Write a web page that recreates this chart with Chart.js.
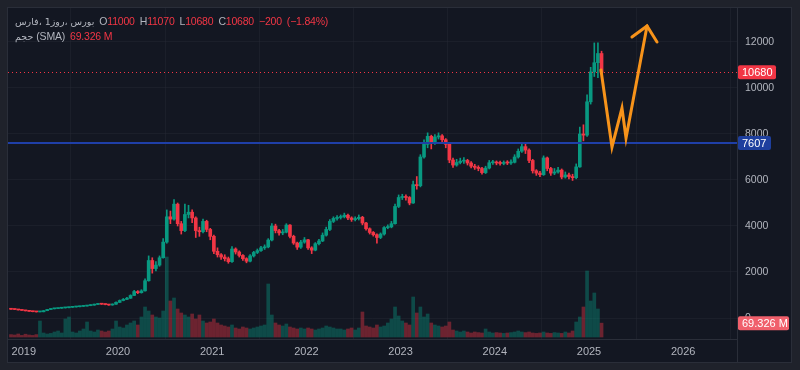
<!DOCTYPE html>
<html>
<head>
<meta charset="utf-8">
<script src="https://cdn.jsdelivr.net/npm/chart.js@4.4.1/dist/chart.umd.min.js"></script>
<style>
  html, body { margin: 0; padding: 0; width: 800px; height: 370px; overflow: hidden; background: #1f222b; }
  #panel { position: absolute; left: 8px; top: 8px; width: 783px; height: 354px; background: #131722; box-shadow: 0 0 0 1px #2a2e39; }
  #panel canvas { position: absolute; left: 0; top: 0; }
  .legend { position: absolute; left: 7px; height: 14px; line-height: 14px; white-space: nowrap; color: #b2b5be;
            display: flex; align-items: center;
            font: 10.5px "Liberation Sans", "DejaVu Sans", sans-serif; letter-spacing: -0.2px; }
  .legend .v { color: #f23645; }
  .legend .g { margin-left: 5px; }
  .fa { font-family: "DejaVu Sans", sans-serif; font-size: 9.5px; letter-spacing: 0; direction: ltr; }
</style>
</head>
<body>
<div id="panel">
  <canvas id="chart"></canvas>
  <div class="legend" id="row1" style="top:6px"></div>
  <div class="legend" id="row2" style="top:21px"></div>
</div>
<script>
/* ---- data (two-week candles) ---- */
const START_YEAR = 2018.864;
const STEP = 1 / 26;
const firstOpen = 390;

const closes = [
  380,370,350,330,310,290,275,265,270,320,
  370,400,410,425,440,450,465,480,490,505,
  520,540,560,590,610,600,585,565,600,680,
  760,810,860,980,1150,1100,1180,1620,2500,2150,
  2300,2620,3300,4400,4300,4950,4100,3800,4500,4600,
  4350,3800,3750,4200,3850,3550,2900,2750,2650,2580,
  2450,3000,2870,2720,2580,2470,2700,2850,2930,3050,
  3090,3390,4000,3800,3700,3730,4040,3550,3260,3080,
  3300,3400,3050,2950,3230,3350,3600,3850,4200,4330,
  4370,4400,4470,4350,4280,4320,4380,4130,3880,3720,
  3620,3500,3650,3930,3960,4100,4850,5240,5260,5240,
  5000,5800,5750,7000,7550,7900,7600,7870,7920,7750,
  7550,6870,6650,6760,6820,6850,6740,6600,6550,6500,
  6320,6520,6750,6760,6740,6720,6760,6740,6770,7000,
  7250,7450,7300,6850,6400,6300,6230,6960,6500,6300,
  6350,6430,6130,6220,6150,6100,6570,8000,7950,9400,
  10700,11100,11500,10680
];
const highs = [
  400,388,378,356,336,315,296,282,280,328,
  378,410,420,435,452,462,478,495,502,520,
  535,556,578,605,640,625,612,595,615,700,
  785,850,900,1010,1200,1190,1230,1700,2700,2620,
  2450,2700,3450,4700,4650,5150,5000,4200,4950,4900,
  4700,4400,3950,4300,4250,3900,3600,3050,2800,2750,
  2650,3100,3050,2920,2760,2620,2760,2900,3000,3120,
  3180,3450,4100,4080,3850,3850,4100,4060,3600,3300,
  3380,3500,3420,3100,3280,3420,3700,3950,4280,4400,
  4450,4480,4560,4520,4400,4400,4480,4420,4160,3920,
  3760,3660,3700,3980,4050,4200,4950,5350,5380,5350,
  5280,5950,6150,7100,7750,8050,7950,7980,8050,7980,
  7800,7600,6950,6900,6950,6980,6900,6800,6680,6620,
  6550,6600,6850,6850,6830,6820,6830,6840,6880,7100,
  7350,7600,7550,7350,6900,6450,6380,7050,7000,6550,
  6500,6550,6480,6350,6300,6250,6700,8300,8400,9700,
  10900,11960,11960,11600
];
const lows = [
  372,362,345,325,305,284,268,258,260,266,
  315,362,392,402,418,432,442,458,472,482,
  498,512,532,552,580,588,572,550,555,592,
  670,745,795,850,970,1060,1080,1170,1600,1950,
  2050,2250,2600,3250,4100,4250,4000,3650,3750,4350,
  4150,3500,3550,3700,3750,3400,2800,2650,2550,2480,
  2380,2420,2780,2650,2500,2400,2440,2650,2800,2900,
  2980,3050,3350,3700,3600,3620,3700,3480,3200,2980,
  3020,3250,2980,2800,2920,3180,3320,3560,3800,4150,
  4250,4300,4350,4280,4200,4220,4260,4050,3820,3650,
  3560,3250,3450,3600,3880,3920,4080,4800,5150,5120,
  4920,4980,5600,5700,6950,7400,7350,7550,7780,7650,
  7400,6750,6550,6600,6700,6720,6650,6520,6460,6400,
  6250,6280,6480,6680,6660,6650,6660,6670,6680,6740,
  6950,7200,7150,6750,6300,6200,6150,6200,6400,6200,
  6230,6300,6050,6080,6050,5980,6050,6550,7700,7900,
  9300,10500,10450,10600
];
// volume, millions
const vols = [
  12,10,15,8,14,10,8,12,80,20,
  15,18,25,30,20,90,100,25,20,30,
  40,75,30,25,35,30,25,30,40,80,
  50,45,60,70,80,60,100,150,130,110,
  100,95,130,400,180,195,140,120,110,100,
  115,90,110,80,70,75,90,70,60,55,
  50,60,45,40,50,45,40,45,50,55,
  60,265,110,70,60,55,65,50,45,40,
  45,40,45,40,35,40,45,55,50,45,
  40,40,35,40,45,35,45,125,55,50,
  45,60,50,55,70,90,150,105,80,70,
  60,200,120,150,100,115,70,60,55,50,
  55,75,35,30,25,30,25,20,25,22,
  20,40,25,20,22,20,18,20,22,25,
  30,25,22,25,20,18,20,25,20,18,
  22,20,18,25,20,30,75,100,150,330,
  180,220,140,69.326
];

const priceTicks = [0, 2000, 4000, 6000, 8000, 10000, 12000];
const yearTicks = [2019, 2020, 2021, 2022, 2023, 2024, 2025, 2026];

const levelLine = 7607;
// hand drawn arrow, [year, price]
const arrowPath = [[2025.127, 10783], [2025.244, 7435], [2025.350, 9130], [2025.393, 7826], [2025.616, 12696]];
const arrowHead = [[2025.456, 12217], [2025.616, 12696], [2025.722, 12000]];

const titleParts = ['فارس،', '1روز،', 'بورس'];
const legendKeys = ['O', 'H', 'L', 'C'];
const legendVals = [11000, 11070, 10680, 10680];
const legendChange = ['−200', '(−1.84%)'];

/* ---- styles ---- */
const UP = '#089981', DOWN = '#f23645';
const UP_VOL = 'rgba(8,153,129,0.4)', DOWN_VOL = 'rgba(242,54,69,0.4)';
const TEXT = '#b2b5be', GRID = 'rgba(42,46,57,0.35)', BORDER = '#2a2e39';
const FONT = '"Liberation Sans", "DejaVu Sans", sans-serif';

const times = closes.map((_, i) => START_YEAR + i * STEP);
const opens = [firstOpen, ...closes.slice(0, -1)];
const isUp = closes.map((c, i) => c >= opens[i]);
const lastClose = closes[closes.length - 1];
const lastVol = vols[vols.length - 1];

/* ---- legend text ---- */
document.getElementById('row1').innerHTML =
  titleParts.map((p, i) => `<span class="fa" style="margin-right:${i < 2 ? 3 : 0}px">${p}</span>`).join('') +
  legendKeys.map((k, i) => `<span class="g">${k}<span class="v">${legendVals[i]}</span></span>`).join('') +
  legendChange.map(s => `<span class="g v">${s}</span>`).join('');
document.getElementById('row2').innerHTML =
  '<span class="fa">حجم</span><span style="margin-left:3px">(SMA)</span><span class="g v">' + lastVol.toFixed(3) + ' M</span>';

/* ---- helpers ---- */
function box(ctx, x, y, w, h, bg, text) {
  ctx.fillStyle = bg;
  ctx.beginPath();
  ctx.roundRect(x, y - h / 2, w, h, 2);
  ctx.fill();
  ctx.fillStyle = '#ffffff';
  ctx.font = '11px ' + FONT;
  ctx.textAlign = 'left';
  ctx.textBaseline = 'middle';
  ctx.fillText(text, x + 4, y + 0.5);
}

const overlay = {
  id: 'overlay',
  afterDatasetDraw(chart, args) {
    if (args.index !== 2) return; // right after candle bodies
    const { ctx, chartArea: a, scales } = chart;
    ctx.save();
    ctx.beginPath();
    ctx.rect(a.left, a.top, a.right - a.left, a.bottom - a.top);
    ctx.clip();
    // support line
    const yl = scales.y.getPixelForValue(levelLine);
    ctx.strokeStyle = '#1f3fa8';
    ctx.lineWidth = 2;
    ctx.beginPath();
    ctx.moveTo(a.left, yl); ctx.lineTo(a.right, yl);
    ctx.stroke();
    // last price line
    const yp = Math.round(scales.y.getPixelForValue(lastClose)) + 0.5;
    ctx.strokeStyle = DOWN;
    ctx.lineWidth = 1;
    ctx.setLineDash([1, 3]);
    ctx.beginPath();
    ctx.moveTo(a.left, yp); ctx.lineTo(a.right, yp);
    ctx.stroke();
    ctx.restore();
  },
  afterDraw(chart) {
    const { ctx, chartArea: a, scales } = chart;
    ctx.save();
    // separator through the time axis
    ctx.strokeStyle = BORDER;
    ctx.lineWidth = 1;
    ctx.beginPath();
    ctx.moveTo(a.right + 0.5, a.bottom); ctx.lineTo(a.right + 0.5, chart.height);
    ctx.stroke();
    box(ctx, a.right + 1, scales.y.getPixelForValue(lastClose), 38, 14, DOWN, String(lastClose));
    box(ctx, a.right + 1, scales.y.getPixelForValue(levelLine), 33, 14, '#1e3f9e', String(levelLine));
    box(ctx, a.right + 1, scales.v.getPixelForValue(lastVol), 51, 14, '#f0606c', lastVol.toFixed(3) + ' M');
    ctx.restore();
  }
};

const pts = arr => arr.map(p => ({ x: p[0], y: p[1] }));

new Chart(document.getElementById('chart'), {
  type: 'bar',
  data: {
    datasets: [
      {
        type: 'line', data: pts(arrowPath), yAxisID: 'y', order: 0,
        borderColor: '#f7931a', borderWidth: 3, pointRadius: 0, tension: 0,
        borderCapStyle: 'round', borderJoinStyle: 'miter',
      },
      {
        type: 'line', data: pts(arrowHead), yAxisID: 'y', order: 0,
        borderColor: '#f7931a', borderWidth: 3, pointRadius: 0, tension: 0,
        borderCapStyle: 'round', borderJoinStyle: 'miter',
      },
      {
        data: times.map((t, i) => ({ x: t, y: [opens[i], closes[i]] })),
        yAxisID: 'y', order: 1, grouped: false, barThickness: 3, minBarLength: 1,
        backgroundColor: isUp.map(u => u ? UP : DOWN),
      },
      {
        data: times.map((t, i) => ({ x: t, y: [lows[i], highs[i]] })),
        yAxisID: 'y', order: 2, grouped: false, barThickness: 1,
        backgroundColor: isUp.map(u => u ? UP : DOWN),
      },
      {
        data: times.map((t, i) => ({ x: t, y: vols[i] })),
        yAxisID: 'v', order: 3, grouped: false, barThickness: 3,
        backgroundColor: isUp.map(u => u ? UP_VOL : DOWN_VOL),
      },
    ],
  },
  options: {
    responsive: true,
    maintainAspectRatio: false,
    animation: false,
    layout: { padding: 0 },
    plugins: { legend: { display: false }, tooltip: { enabled: false } },
    scales: {
      x: {
        type: 'linear', min: 2018.8323, max: 2026.5711, offset: false,
        grid: { color: GRID, drawTicks: false },
        border: { color: BORDER },
        ticks: {
          autoSkip: false, maxRotation: 0,
          color: TEXT, padding: 6, font: { family: FONT, size: 11 },
          callback: v => String(v),
        },
        afterBuildTicks: s => { s.ticks = yearTicks.map(v => ({ value: v })); },
        afterFit: s => { s.height = 23; s.paddingLeft = 0; s.paddingRight = 0; },
      },
      y: {
        position: 'right', min: -913, max: 13478,
        grid: { color: GRID, drawTicks: false },
        border: { color: BORDER },
        ticks: {
          color: TEXT, padding: 8, font: { family: FONT, size: 10.5 },
          callback: v => String(v),
        },
        afterBuildTicks: s => { s.ticks = priceTicks.map(v => ({ value: v })); },
        afterFit: s => { s.width = 54; s.paddingTop = 0; s.paddingBottom = 0; },
      },
      v: { display: false, min: -10, max: 1645 },
    },
  },
  plugins: [overlay],
});
</script>
</body>
</html>
